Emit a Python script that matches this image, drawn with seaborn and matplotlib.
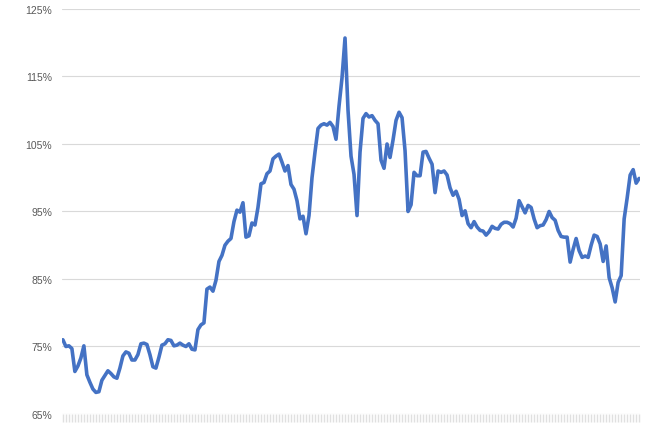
import numpy as np
import pandas as pd
import matplotlib
matplotlib.use('Agg')
import matplotlib.pyplot as plt
import seaborn as sns
from matplotlib.ticker import FuncFormatter

# values, in percent, one per period
ratio = [
    76.0, 75.0, 75.1, 74.7, 71.3, 72.1, 73.3, 75.1, 70.8, 69.7,
    68.7, 68.2, 68.3, 70.0, 70.7, 71.4, 71.0, 70.5, 70.3, 71.8,
    73.6, 74.2, 74.0, 73.0, 73.0, 73.8, 75.4, 75.5, 75.3, 73.8,
    72.0, 71.8, 73.4, 75.2, 75.4, 76.0, 75.9, 75.1, 75.2, 75.5,
    75.2, 75.0, 75.4, 74.6, 74.5, 77.5, 78.2, 78.5, 83.5, 83.8,
    83.2, 84.8, 87.6, 88.5, 90.0, 90.6, 91.0, 93.5, 95.2, 94.9,
    96.3, 91.2, 91.4, 93.3, 93.0, 95.6, 99.1, 99.3, 100.6, 101.0,
    102.8, 103.2, 103.5, 102.3, 101.0, 101.8, 99.0, 98.3, 96.6, 93.9,
    94.3, 91.7, 94.4, 100.0, 103.8, 107.3, 107.8, 108.0, 107.8, 108.2,
    107.6, 105.7, 110.6, 114.8, 120.7, 110.0, 103.2, 100.5, 94.4, 103.8,
    108.8, 109.5, 109.0, 109.2, 108.5, 108.0, 102.6, 101.4, 105.0, 103.0,
    105.6, 108.5, 109.7, 108.9, 104.0, 95.0, 96.0, 100.8, 100.3, 100.3,
    103.8, 103.9, 102.9, 102.0, 97.8, 101.0, 100.8, 101.0, 100.4, 98.5,
    97.4, 98.0, 96.8, 94.4, 95.1, 93.2, 92.6, 93.5, 92.7, 92.2,
    92.1, 91.5, 92.0, 92.8, 92.5, 92.4, 93.1, 93.4, 93.4, 93.2,
    92.7, 94.0, 96.6, 95.7, 94.8, 95.9, 95.6, 93.9, 92.6, 92.9,
    93.0, 93.8, 95.0, 94.1, 93.7, 92.2, 91.3, 91.2, 91.2, 87.5,
    89.4, 91.0, 89.2, 88.2, 88.4, 88.2, 90.0, 91.5, 91.3, 90.2,
    87.6, 89.9, 85.2, 83.7, 81.6, 84.5, 85.5, 93.9, 97.0, 100.4,
    101.2, 99.2, 99.9,
]
period = list(range(len(ratio)))
y_ticks = [65, 75, 85, 95, 105, 115, 125]

df = pd.DataFrame({'period': period, 'ratio': ratio})

sns.set_style('white')
plt.rcParams['font.family'] = ['Liberation Sans', 'DejaVu Sans']

fig = plt.figure(figsize=(6.51, 4.27), dpi=100)
ax = fig.add_axes([0.0952, 0.0281, 0.888, 0.9485])

sns.lineplot(data=df, x='period', y='ratio', ax=ax, color='#4472C4', linewidth=2.6)

ax.set_ylim(65, 125)
ax.set_yticks(y_ticks)
ax.yaxis.set_major_formatter(FuncFormatter(lambda v, p: f'{v:.0f}%'))
ax.set_xlim(-0.3, len(ratio) - 0.7)
ax.set_xticks(period)
ax.set_xticklabels([])
ax.grid(axis='y', color='#d9d9d9', linewidth=0.8)
ax.set_axisbelow(True)

ax.tick_params(axis='y', left=False, length=0, labelsize=7.5, labelcolor='#595959', pad=7)
# dense category ticks that read as a grey band under the plot
ax.tick_params(axis='x', bottom=True, direction='out', length=6, width=1.0, color='#e0e0e0')
for s in ax.spines.values():
    s.set_visible(False)
ax.set_xlabel('')
ax.set_ylabel('')

fig.savefig('out.png', dpi=100)
